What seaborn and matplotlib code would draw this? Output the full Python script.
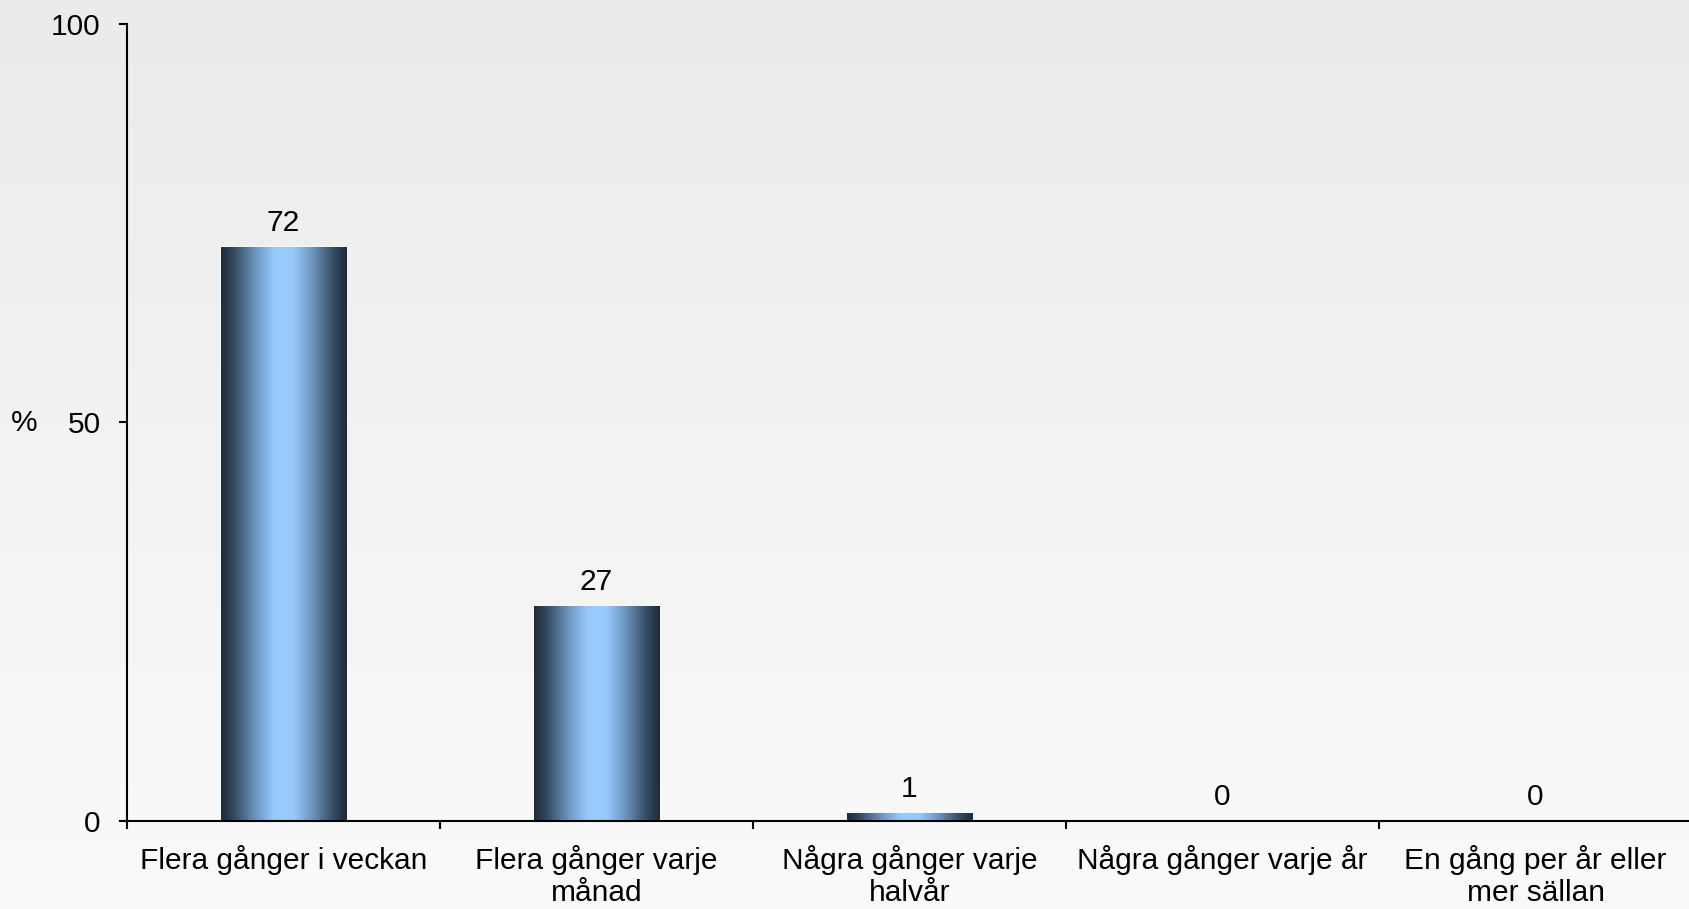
import numpy as np
import pandas as pd
import matplotlib
matplotlib.use("Agg")
import matplotlib.pyplot as plt
from matplotlib.colors import LinearSegmentedColormap
import seaborn as sns

# data
categories = ["Flera gånger i veckan", "Flera gånger varje\nmånad",
              "Några gånger varje\nhalvår", "Några gånger varje år",
              "En gång per år eller\nmer sällan"]
percent = [72, 27, 1, 0, 0]
y_ticks = [0, 50, 100]

df = pd.DataFrame({"Kategori": categories, "Procent": percent})

sns.set_style("white")
plt.rcParams["font.family"] = ["Liberation Sans", "DejaVu Sans"]
plt.rcParams["text.color"] = "black"
plt.rcParams["xtick.color"] = "black"
plt.rcParams["ytick.color"] = "black"

FS = 21.5

fig = plt.figure(figsize=(16.89, 9.09), dpi=100)

# background: light grey vertical gradient
bg = fig.add_axes([0, 0, 1, 1], zorder=-1)
grad = np.linspace(0, 1, 256).reshape(-1, 1)
bg_cmap = LinearSegmentedColormap.from_list("bg", ["#ebebeb", "#fafafa"])
bg.imshow(grad, aspect="auto", cmap=bg_cmap, extent=[0, 1, 0, 1], origin="upper")
bg.set_axis_off()

ax = fig.add_axes([0.0752, 0.0968, 0.9266, 0.8772])
ax.set_facecolor("none")

sns.barplot(data=df, x="Kategori", y="Procent", color="#99ccff", width=0.4,
            edgecolor="#f4f7fa", linewidth=1.2, ax=ax)

# horizontal dark-light-dark gradient inside each bar
bar_cmap = LinearSegmentedColormap.from_list(
    "bar", [(0.0, "#1f2b39"), (0.1, "#34495f"), (0.28, "#6f98c2"),
            (0.42, "#96c8fa"), (0.5, "#99ccff"), (0.58, "#96c8fa"),
            (0.72, "#6f98c2"), (0.9, "#34495f"), (1.0, "#1f2b39")])
hgrad = np.linspace(0, 1, 256).reshape(1, -1)
for p in ax.patches:
    h = p.get_height()
    if h <= 0:
        continue
    x0 = p.get_x()
    im = ax.imshow(hgrad, aspect="auto", cmap=bar_cmap,
                   extent=[x0, x0 + p.get_width(), 0, h], zorder=2)
    im.set_clip_path(p)

ax.bar_label(ax.containers[0], labels=[str(v) for v in percent],
             padding=7, fontsize=FS)

ax.set_xlim(-0.5, 4.5)
ax.set_ylim(0, 100)
ax.set_yticks(y_ticks)
ax.set_xlabel("")
ax.set_ylabel("")

# ticks between categories
ax.set_xticks(np.arange(len(categories)))
ax.set_xticklabels(categories, fontsize=FS, linespacing=1.22)
ax.set_xticks(np.arange(len(categories)) - 0.5, minor=True)
ax.tick_params(axis="x", which="major", bottom=True, length=0, pad=17)
ax.tick_params(axis="x", which="minor", bottom=True, length=6, width=1.5,
               direction="out", color="black")
ax.tick_params(axis="y", left=True, length=6, width=1.5, direction="out",
               color="black", labelsize=FS, pad=13)

for side in ["top", "right"]:
    ax.spines[side].set_visible(False)
for side in ["left", "bottom"]:
    ax.spines[side].set_color("black")
    ax.spines[side].set_linewidth(1.5)

fig.text(24 / 1689, 1 - 423 / 909, "%", fontsize=FS, ha="center", va="center")

fig.savefig("out.png", dpi=100)
